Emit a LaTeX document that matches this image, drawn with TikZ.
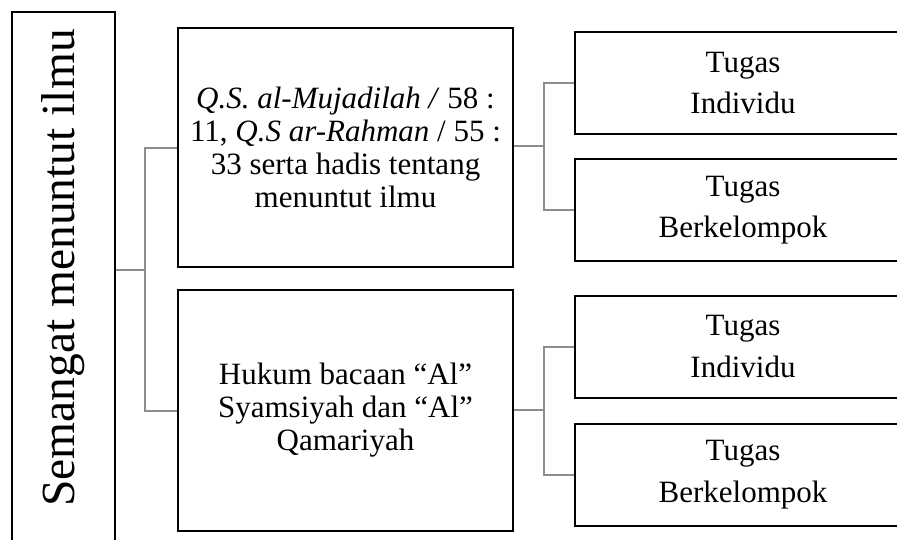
\documentclass[tikz,border=0pt]{standalone}
\usepackage{fontspec}
\setmainfont{Liberation Serif}
\definecolor{conncol}{RGB}{140,140,140}
\begin{document}
\begin{tikzpicture}[x=1pt,y=-1pt,
  box/.style={draw=black, line width=2pt, inner sep=0pt, align=center, rectangle},
  midbox/.style={box, minimum width=335pt, font=\fontsize{31}{33}\selectfont},
  leafbox/.style={box, minimum width=336pt, minimum height=102pt, font=\fontsize{31}{41.5}\selectfont},
  conn/.style={draw=conncol, line width=2pt}]
\useasboundingbox (0,0) rectangle (897,539);
\clip (0,0) rectangle (897,539);
\fill[white] (0,0) rectangle (897,539);
% root
\node[box, minimum width=103pt, minimum height=546pt] (root) at (63.5,285) {};
\node[rotate=90, font=\fontsize{47.5}{50}\selectfont, inner sep=0pt] (roottext) at (63.5,268) {Semangat menuntut ilmu};
% middle
\node[midbox, minimum height=239pt] (m1) at (345.5,147.5)
  {\textit{Q.S. al-Mujadilah /} 58 :\\11, \textit{Q.S ar-Rahman} / 55 :\\33 serta hadis tentang\\menuntut ilmu};
\node[midbox, minimum height=241pt] (m2) at (345.5,410.5)
  {Hukum bacaan “Al”\\Syamsiyah dan “Al”\\Qamariyah};
% leaves
\node[leafbox] (l1) at (743,83) {Tugas\\Individu};
\node[leafbox] (l2) at (743,210) {Tugas\\Berkelompok};
\node[leafbox] (l3) at (743,346.5) {Tugas\\Individu};
\node[leafbox] (l4) at (743,474.5) {Tugas\\Berkelompok};
% connectors
\coordinate (j0) at (145,270);
\coordinate (j1) at (544,146);
\coordinate (j2) at (544,410);
\draw[conn] (root.east |- j0) -- (j0);
\draw[conn] (j0) |- (m1.west);
\draw[conn] (j0) |- (m2.west);
\draw[conn] (m1.east |- j1) -- (j1);
\draw[conn] (j1) |- (l1.west);
\draw[conn] (j1) |- (l2.west);
\draw[conn] (m2.east |- j2) -- (j2);
\draw[conn] (j2) |- (l3.west);
\draw[conn] (j2) |- (l4.west);
\end{tikzpicture}
\end{document}
